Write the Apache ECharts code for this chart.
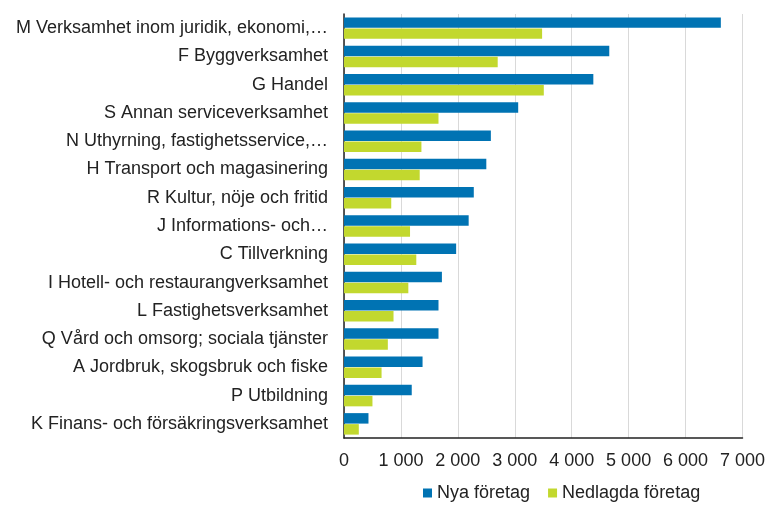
<!DOCTYPE html>
<html>
<head>
<meta charset="utf-8">
<script src="https://cdn.jsdelivr.net/npm/echarts@6/dist/echarts.min.js"></script>
<style>
  html, body { margin: 0; padding: 0; background: #fff; }
  #chart { width: 768px; height: 509px; }
</style>
</head>
<body>
<div id="chart"></div>
<script>
// branscher, uppifrån och ned
const categories = [
  'M Verksamhet inom juridik, ekonomi,…',
  'F Byggverksamhet',
  'G Handel',
  'S Annan serviceverksamhet',
  'N Uthyrning, fastighetsservice,…',
  'H Transport och magasinering',
  'R Kultur, nöje och fritid',
  'J Informations- och…',
  'C Tillverkning',
  'I Hotell- och restaurangverksamhet',
  'L Fastighetsverksamhet',
  'Q Vård och omsorg; sociala tjänster',
  'A Jordbruk, skogsbruk och fiske',
  'P Utbildning',
  'K Finans- och försäkringsverksamhet'
]
const nyaForetag = [6620, 4660, 4380, 3060, 2580, 2500, 2280, 2190, 1970, 1720, 1660, 1660, 1380, 1190, 430]
const nedlagdaForetag = [3480, 2700, 3510, 1660, 1360, 1330, 830, 1160, 1270, 1130, 870, 770, 660, 500, 260]
const xTicks = { min: 0, max: 7000, interval: 1000 }

const fmt = v => String(v).replace(/\B(?=(\d{3})+(?!\d))/g, ' ')

const chart = echarts.init(document.getElementById('chart'))

chart.setOption({
  animation: false,
  textStyle: { fontFamily: '"Liberation Sans", Arial, sans-serif', color: '#222' },
  legend: {
    bottom: 2,
    left: 418,
    itemWidth: 9,
    itemHeight: 9,
    itemGap: 18,
    icon: 'rect',
    textStyle: { fontSize: 18, color: '#222' },
    data: ['Nya företag', 'Nedlagda företag']
  },
  grid: { left: 344, right: 21, top: 14, bottom: 71 },
  xAxis: {
    type: 'value',
    min: xTicks.min,
    max: xTicks.max,
    interval: xTicks.interval,
    axisLine: { show: true, lineStyle: { color: '#222', width: 1.5 } },
    axisTick: { show: false },
    axisLabel: { fontSize: 18, color: '#222', margin: 14, formatter: fmt },
    splitLine: { show: true, lineStyle: { color: '#d9d9d9', width: 1 } }
  },
  yAxis: {
    type: 'category',
    inverse: true,
    data: categories,
    axisLine: { show: true, lineStyle: { color: '#222', width: 1.5 } },
    axisTick: { show: false },
    axisLabel: { fontSize: 18, color: '#222', margin: 16 }
  },
  series: [
    {
      name: 'Nya företag',
      type: 'bar',
      data: nyaForetag,
      barGap: '5%',
      barCategoryGap: '24%',
      itemStyle: { color: '#0073b3' }
    },
    {
      name: 'Nedlagda företag',
      type: 'bar',
      data: nedlagdaForetag,
      itemStyle: { color: '#c2d82e' }
    }
  ]
})
</script>
</body>
</html>
